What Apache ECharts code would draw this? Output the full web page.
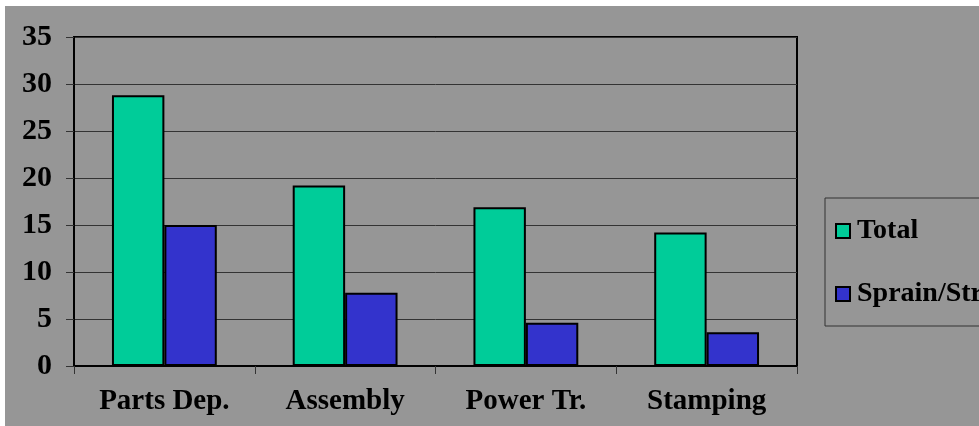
<!DOCTYPE html>
<html>
<head>
<meta charset="utf-8">
<script src="https://cdn.jsdelivr.net/npm/echarts@6/dist/echarts.min.js"></script>
<style>
html,body{margin:0;padding:0;background:#ffffff;}
#chart{width:979px;height:426px;}
</style>
</head>
<body>
<div id="chart"></div>
<script>
var categories = ['Parts Dep.', 'Assembly', 'Power Tr.', 'Stamping'];
var totalValues = [28.8, 19.2, 16.9, 14.2];
var sprainValues = [15.0, 7.8, 4.6, 3.6];
var seriesNames = ['Total', 'Sprain/Strain'];
var yTicks = [0, 5, 10, 15, 20, 25, 30, 35];

var FONT = '"Liberation Serif", "Times New Roman", serif';
var chart = echarts.init(document.getElementById('chart'), null, {renderer: 'canvas'});
chart.setOption({
  animation: false,
  backgroundColor: '#ffffff',
  graphic: [{
    type: 'rect', z: -10, silent: true,
    shape: {x: 5, y: 6, width: 980, height: 425},
    style: {fill: '#969696'}
  }],
  grid: {
    left: 74, top: 37, right: 182, bottom: 60,
    show: true, borderColor: '#000', borderWidth: 2, backgroundColor: 'transparent'
  },
  legend: {
    orient: 'vertical',
    left: 825, top: 198,
    padding: [18, 200, 17, 10],
    itemGap: 33,
    itemWidth: 14, itemHeight: 14,
    icon: 'rect',
    borderColor: '#333', borderWidth: 1,
    backgroundColor: '#969696',
    textStyle: {fontFamily: FONT, fontWeight: 'bold', fontSize: 28, color: '#000', lineHeight: 30, padding: [0,0,0,2]},
    data: seriesNames
  },
  xAxis: {
    type: 'category',
    data: categories,
    axisLine: {lineStyle: {color: '#000', width: 2}},
    axisTick: {show: true, length: 8, alignWithLabel: false, lineStyle: {color: '#333', width: 1}},
    axisLabel: {fontFamily: FONT, fontWeight: 'bold', fontSize: 29, color: '#000', margin: 21}
  },
  yAxis: {
    type: 'value',
    min: 0, max: 35, interval: 5,
    axisLine: {show: true, lineStyle: {color: '#000', width: 2}},
    axisTick: {show: true, length: 8, lineStyle: {color: '#333', width: 1}},
    splitLine: {show: true, lineStyle: {color: '#333', width: 1}},
    axisLabel: {fontFamily: FONT, fontWeight: 'bold', fontSize: 30, color: '#000', margin: 22,
      formatter: function(v){ return yTicks.indexOf(v) >= 0 ? String(v) : ''; }}
  },
  series: [
    {
      name: seriesNames[0], type: 'bar', data: totalValues,
      barGap: '0%', barCategoryGap: '42%',
      itemStyle: {color: '#00CC99', borderColor: '#000', borderWidth: 2}
    },
    {
      name: seriesNames[1], type: 'bar', data: sprainValues,
      barGap: '0%', barCategoryGap: '42%',
      itemStyle: {color: '#3333CC', borderColor: '#000', borderWidth: 2}
    }
  ]
});
</script>
</body>
</html>
